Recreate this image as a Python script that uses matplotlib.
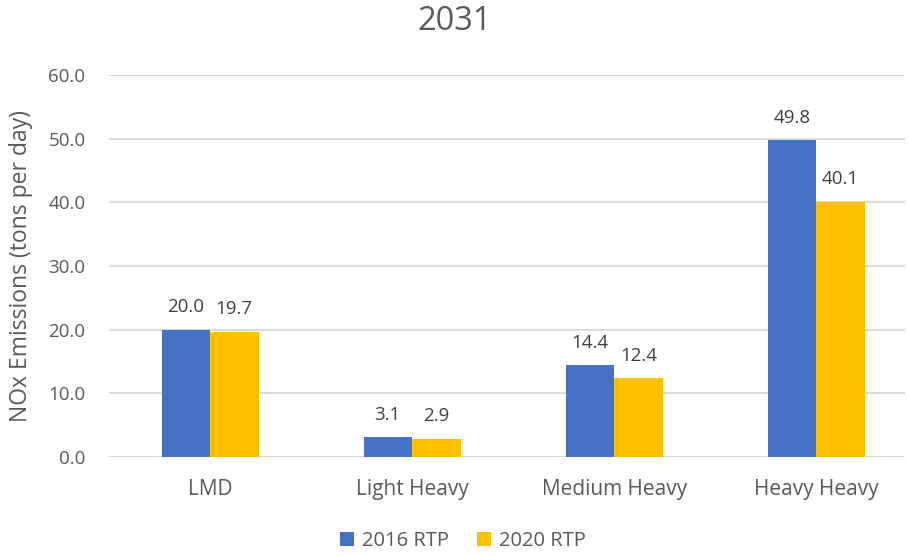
import matplotlib
matplotlib.use("Agg")
import matplotlib.pyplot as plt
import numpy as np

plt.rcParams["font.family"] = ["Open Sans", "DejaVu Sans"]

categories = ["LMD", "Light Heavy", "Medium Heavy", "Heavy Heavy"]
rtp_2016 = [20.0, 3.1, 14.4, 49.8]
rtp_2020 = [19.7, 2.9, 12.4, 40.1]
series_names = ["2016 RTP", "2020 RTP"]
title = "2031"
ylabel = "NOx Emissions (tons per day)"

TEXT = "#595959"
BLUE = "#4472C4"
GOLD = "#FFC000"

fig = plt.figure(figsize=(9.09, 5.56), dpi=100)
ax = fig.add_axes([109 / 909, 99 / 556, 796 / 909, 382 / 556])

x = np.arange(len(categories))
w = 0.24
b1 = ax.bar(x - w / 2, rtp_2016, w, color=BLUE, label=series_names[0], zorder=3)
b2 = ax.bar(x + w / 2, rtp_2020, w, color=GOLD, label=series_names[1], zorder=3)

# value labels above each bar
for bars in (b1, b2):
    for rect in bars:
        h = rect.get_height()
        ax.annotate(f"{h:.1f}", (rect.get_x() + rect.get_width() / 2, h),
                    textcoords="offset points", xytext=(0, 12.5),
                    ha="center", va="baseline", fontsize=13.5, color="#404040")

ax.set_xlim(-0.5, 3.44)
ax.set_ylim(0, 60)
ax.set_yticks(np.arange(0, 61, 10))
ax.set_yticklabels([f"{v:.1f}" for v in np.arange(0, 61, 10)])
ax.set_xticks(x)
ax.set_xticklabels(categories)
ax.tick_params(axis="x", length=0, labelsize=15, colors=TEXT, pad=16)
ax.tick_params(axis="y", length=0, labelsize=13.5, colors=TEXT, pad=17)
ax.yaxis.grid(True, color="#D9D9D9", linewidth=1.3, zorder=0)
for s in ax.spines.values():
    s.set_visible(False)
ax.axhline(0, color="#D9D9D9", linewidth=1.3, zorder=1)

ax.set_ylabel(ylabel, fontsize=16.5, color=TEXT)
ax.yaxis.set_label_coords((33 - 109) / 796, 0.5)
fig.text(0.5, 1 - 21 / 556, title, ha="center", va="center", fontsize=23.5, color=TEXT)

fig.legend(handles=[b1, b2], labels=series_names, loc="center",
           bbox_to_anchor=(463 / 909, 1 - 541 / 556), ncol=2, frameon=False,
           fontsize=14.5, handlelength=0.7, handleheight=0.7, handletextpad=0.4,
           columnspacing=1.4, labelcolor=TEXT)

fig.savefig("out.png", dpi=100)
